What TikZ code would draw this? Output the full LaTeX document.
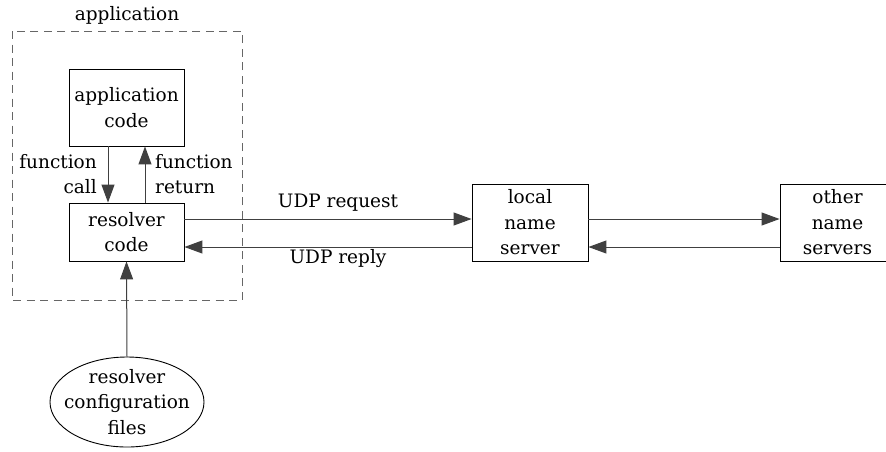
\documentclass[tikz,border=0pt]{standalone}
\usepackage{fontspec}
\setmainfont{DejaVu Serif}
\usetikzlibrary{arrows.meta,shapes.geometric}
\begin{document}
\begin{tikzpicture}[x=1pt,y=-1pt,
  every node/.style={font=\fontsize{18.5}{25.5}\selectfont, inner sep=0pt},
  box/.style={draw=black, line width=0.9pt, rectangle, align=center},
  conn/.style={draw=black!75, line width=1pt, -{Triangle[length=18pt,width=13pt]}},
  lbl/.style={text=black}]
\useasboundingbox (0,0) rectangle (886,451);
\fill[white] (0,0) rectangle (886,451);
\draw[black!60, line width=0.9pt, dash pattern=on 8pt off 5.5pt] (12,31) rectangle (242,300);
\node[lbl] (applbl) at (127,15) {application};
\node[box, minimum width=115pt, minimum height=77pt] (appcode) at (126.5,107.5) {application\\code};
\node[box, minimum width=115pt, minimum height=58pt] (rescode) at (126.5,232) {resolver\\code};
\node[box, minimum width=116pt, minimum height=77pt] (local) at (530,222.5) {local\\name\\server};
\node[box, minimum width=115pt, minimum height=77pt] (other) at (837.5,222.5) {other\\name\\servers};
\node[draw=black, line width=0.9pt, ellipse, minimum width=154pt, minimum height=90pt] (conf) at (127,402) {};
\node[lbl, align=center] (conftext) at (conf.center) {resolver\\configuration\\files};
\coordinate (xcall) at (108,0);
\coordinate (xret) at (145,0);
\coordinate (yreq) at (0,219);
\coordinate (yrep) at (0,247);
\draw[conn] (appcode.south -| xcall) -- (rescode.north -| xcall);
\draw[conn] (rescode.north -| xret) -- (appcode.south -| xret);
\node[lbl, align=right, anchor=east] (fcall) at (97,174) {function\\call};
\node[lbl, align=left, anchor=west] (fret) at (155,174) {function\\return};
\draw[conn] (rescode.east |- yreq) -- (local.west |- yreq);
\draw[conn] (local.west |- yrep) -- (rescode.east |- yrep);
\draw[conn] (local.east |- yreq) -- (other.west |- yreq);
\draw[conn] (other.west |- yrep) -- (local.east |- yrep);
\node[lbl] (udpreq) at (338,203) {UDP request};
\node[lbl] (udprep) at (338,259) {UDP reply};
\draw[conn] (conf.north) -- (rescode.south);
\end{tikzpicture}
\end{document}
